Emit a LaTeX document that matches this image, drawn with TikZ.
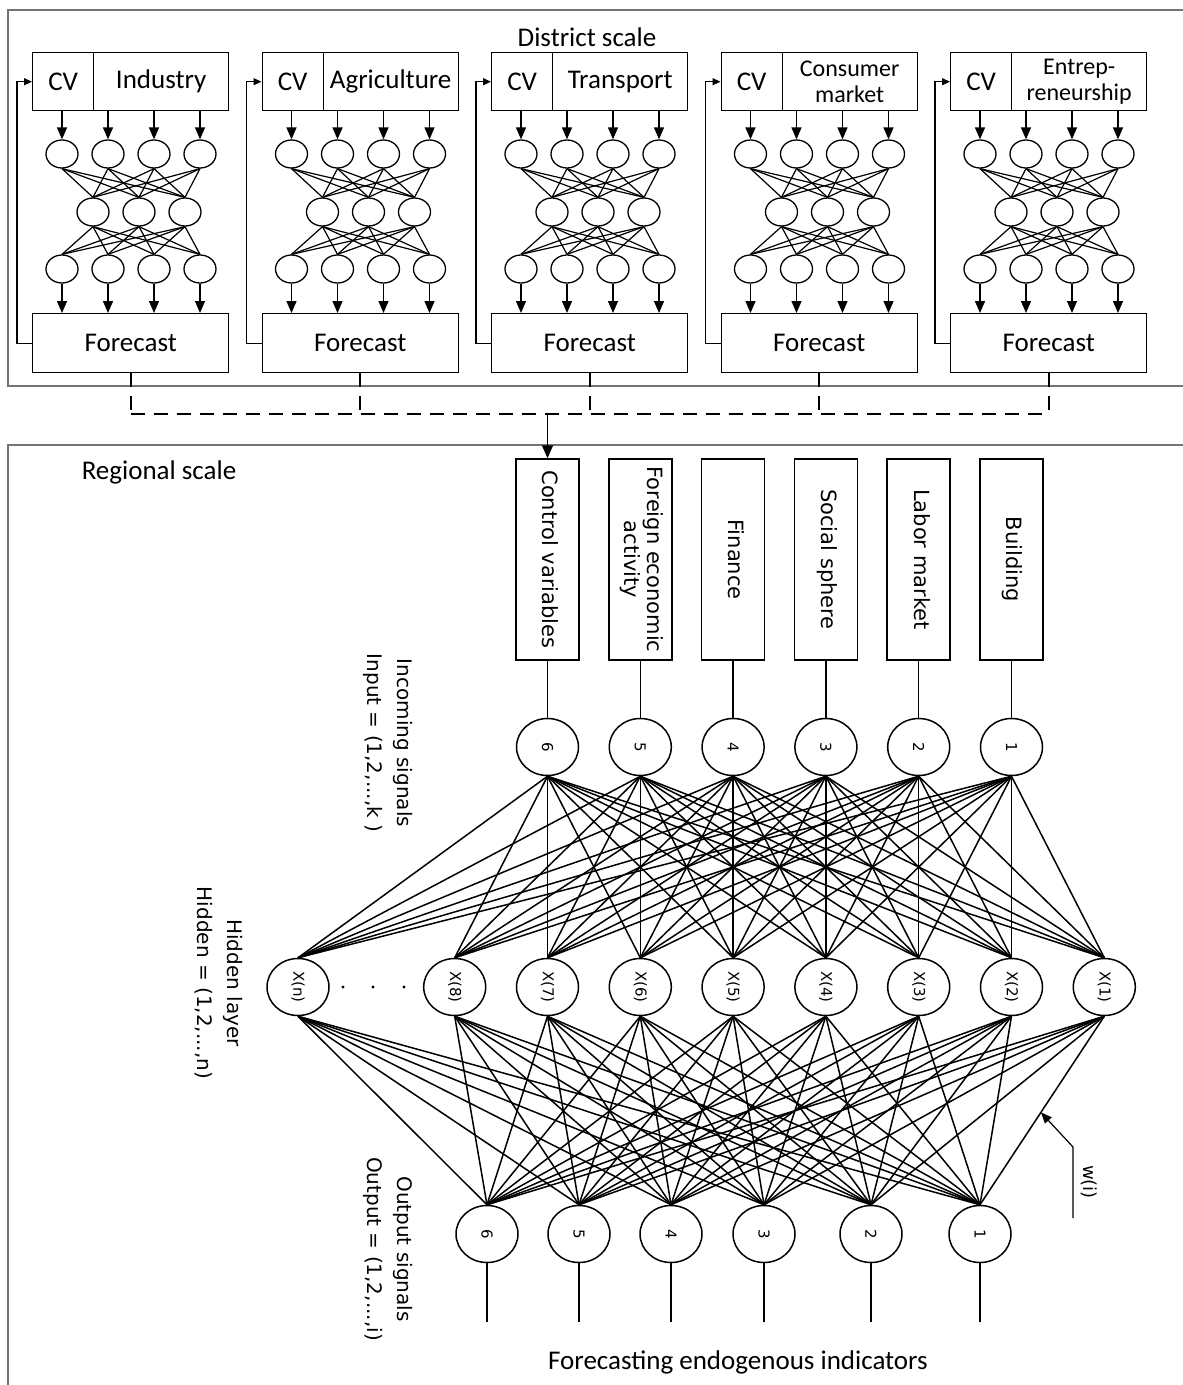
\documentclass[tikz,border=0pt]{standalone}
\usepackage{fontspec}
\setmainfont{Carlito}
\newfontfamily\rotfont{DejaVu Sans}
\usetikzlibrary{arrows.meta,positioning,calc,shapes.geometric}

\begin{document}
\begin{tikzpicture}[x=1pt,y=-1pt,
    frame/.style={draw=black!55,line width=1.6pt},
    cell/.style={draw,line width=1.4pt,inner sep=0pt,align=center,anchor=north west},
    neuron/.style={draw,ellipse,line width=1.3pt,minimum width=32pt,minimum height=28pt,inner sep=0pt},
    unit/.style={draw,ellipse,line width=1.5pt,minimum width=62pt,minimum height=57pt,inner sep=0pt,font=\rotfont\fontsize{15}{15}\selectfont},
    sector/.style={draw,line width=1.5pt,minimum width=63pt,minimum height=201pt,inner sep=0pt,font=\rotfont\fontsize{21}{23}\selectfont},
    side/.style={rotate=-90,align=center,font=\rotfont\fontsize{20}{30}\selectfont},
    title/.style={font=\fontsize{27}{29}\selectfont},
    feed/.style={-{Triangle[length=12pt,width=10pt]},line width=1.4pt},
    loopback/.style={-{Triangle[length=8pt,width=7pt]},line width=1.2pt},
    link/.style={line width=1.2pt},
    wire/.style={line width=1.5pt},
    bus/.style={line width=1.6pt,dash pattern=on 14pt off 9pt},
]
    \useasboundingbox (0,0) rectangle (1183,1385);

    \draw[frame] (1183,10) -- (8,10) -- (8,386) -- (1183,386);
    \draw[frame] (1183,445) -- (8,445) -- (8,1385);
    \node[title] (district) at (587,37) {District scale};
    \node[title] (regional) at (159,472) {Regional scale};

    \foreach \lbl/\fs [count=\i from 0] in {Industry/27,Agriculture/27,Transport/27,{Consumer\\market}/24,{Entrep-\\reneurship}/24} {
        \pgfmathsetmacro\xo{32+229.5*\i}
        \node[cell,minimum width=61pt,minimum height=58pt,font=\fontsize{27}{29}\selectfont] (cv\i) at (\xo,52) {CV};
        \node[cell,minimum width=135pt,minimum height=58pt,font=\fontsize{\fs}{26}\selectfont] (sec\i) at (\xo+61,52) {\lbl};
        \node[cell,minimum width=196pt,minimum height=59pt,font=\fontsize{27}{29}\selectfont] (fc\i) at (\xo,313) {Forecast};
        \foreach \c [count=\j from 0] in {30,76,122,168} {
            \node[neuron] (a\i\j) at (\xo+\c,154) {};
            \node[neuron] (c\i\j) at (\xo+\c,269) {};
            \draw[feed] (a\i\j.north |- cv\i.south) -- (a\i\j.north);
            \draw[feed] (c\i\j.south) -- (c\i\j.south |- fc\i.north);
        }
        \foreach \c [count=\j from 0] in {61,107,153}
            \node[neuron] (b\i\j) at (\xo+\c,212) {};
        \foreach \p in {0,...,3}
            \foreach \q in {0,...,2} {
                \draw[link] (a\i\p.south) -- (b\i\q.north);
                \draw[link] (b\i\q.south) -- (c\i\p.north);
            }
        \draw[loopback] (fc\i.west) -- ++(-15,0) |- (cv\i.west);
    }

    \coordinate (busy) at (0,414);
    \foreach \i in {0,...,4}
        \draw[bus] (fc\i.south) -- (fc\i.south |- busy);
    \draw[bus] (fc0.south |- busy) -- (fc4.south |- busy);

    \foreach \lbl [count=\k from 0] in {Control variables,{Foreign economic\\activity},Finance,Social sphere,Labor market,Building} {
        \pgfmathsetmacro\xk{547.5+92.8*\k}
        \pgfmathtruncatemacro\n{6-\k}
        \node[sector] (box\k) at (\xk,559.5) {\rotatebox{-90}{\begin{tabular}{@{}c@{}}\lbl\end{tabular}}};
        \node[unit] (in\k) at (\xk,747) {\rotatebox{-90}{\n}};
        \draw[wire] (box\k.south) -- (in\k.north);
    }
    \draw[feed,-{Triangle[length=13pt,width=11pt]},line width=1.6pt] (box0.north |- busy) -- (box0.north);

    \node[unit] (h9) at (298,987) {\rotatebox{-90}{X(n)}};
    \foreach \l [count=\h from 1] in {8,7,6,5,4,3,2,1}
        \node[unit] (h\h) at (454.7+92.8*\h-92.8,987) {\rotatebox{-90}{X(\l)}};
    \foreach \d in {343,373,404}
        \fill (\d,987) circle (1.6pt);

    \foreach \x/\l [count=\k from 0] in {487/6,579/5,671/4,764/3,871/2,980/1} {
        \node[unit] (out\k) at (\x,1234) {\rotatebox{-90}{\l}};
        \coordinate (end\k) at (\x,1322);
        \draw[wire] (out\k.south) -- (end\k);
    }

    \foreach \a in {0,...,5}
        \foreach \b in {1,...,9} {
            \draw[wire] (in\a.south) -- (h\b.north);
            \draw[wire] (h\b.south) -- (out\a.north);
        }

    \path (h8.south) -- (out5.north) coordinate[pos=0.51] (wtip);
    \coordinate (wbend) at (1073,1147);
    \coordinate (wend) at (1073,1218);
    \draw[loopback,-{Triangle[length=11pt,width=9pt]}] (wend) -- (wbend) -- (wtip);
    \node[side,font=\rotfont\fontsize{18}{20}\selectfont] (wlab) at (1089,1182) {w(i)};

    \node[side] (inlab) at (388,743) {Incoming signals\\Input = (1,2,...,k )};
    \node[side] (hidlab) at (219,983) {Hidden layer\\Hidden = (1,2,...,n)};
    \node[side] (outlab) at (388,1249) {Output signals\\Output = (1,2,...,i)};
    \node[title] (endo) at (738,1362) {Forecasting endogenous indicators};
\end{tikzpicture}
\end{document}
